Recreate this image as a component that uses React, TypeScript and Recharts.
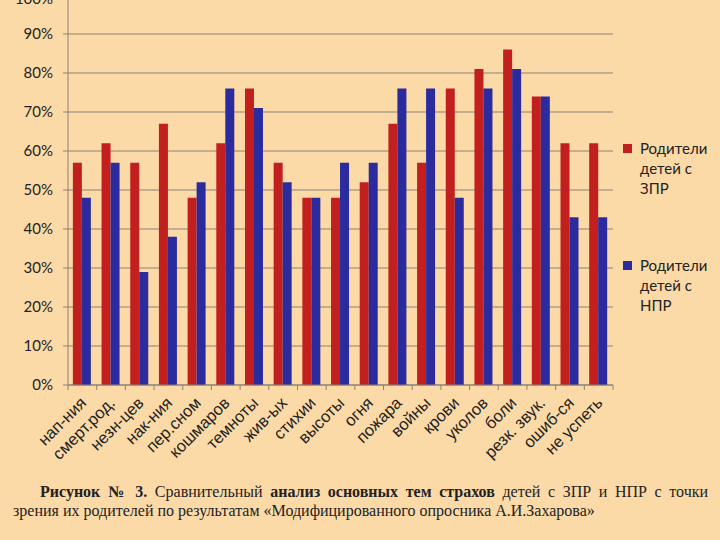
import { BarChart, Bar, XAxis, YAxis, CartesianGrid, Legend } from "recharts";

// темы страхов
const categories = [
  "нап-ния", "смерт.род.", "незн-цев", "нак-ния", "пер.сном", "кошмаров", "темноты",
  "жив-ых", "стихии", "высоты", "огня", "пожара", "войны", "крови", "уколов",
  "боли", "резк. звук.", "ошиб-ся", "не успеть",
];
const zpr = [57, 62, 57, 67, 48, 62, 76, 57, 48, 48, 52, 67, 57, 76, 81, 86, 74, 62, 62];
const npr = [48, 57, 29, 38, 52, 76, 71, 52, 48, 57, 57, 76, 76, 48, 76, 81, 74, 43, 43];
const yTicks = [0, 0.1, 0.2, 0.3, 0.4, 0.5, 0.6, 0.7, 0.8, 0.9, 1];
const seriesNames = ["Родители детей с ЗПР", "Родители детей с НПР"];

const data = categories.map((name, i) => ({ name, zpr: zpr[i] / 100, npr: npr[i] / 100 }));

const BG = "#FCDAA8";
const RED = "#C21F1F";
const BLUE = "#2B2B9E";
const GRID = "#8C8174";
const PLOT_LEFT = 68;
const PLOT_RIGHT = 613;
const STEP = (PLOT_RIGHT - PLOT_LEFT) / categories.length;

function XTick(props: any) {
  const { x, y, payload, index } = props;
  const y0 = y - 8;
  return (
    <g>
      <line x1={x - STEP / 2} x2={x - STEP / 2} y1={y0} y2={y0 + 5} stroke={GRID} />
      {index === categories.length - 1 && (
        <line x1={x + STEP / 2} x2={x + STEP / 2} y1={y0} y2={y0 + 5} stroke={GRID} />
      )}
      <text
        x={x + 5}
        y={y0 + 19}
        transform={`rotate(-45, ${x + 5}, ${y0 + 19})`}
        textAnchor="end"
        fontFamily="'Liberation Sans', Arial, sans-serif"
        fontSize={16.5}
        fill="#222"
      >
        {payload.value}
      </text>
    </g>
  );
}

function LegendBox() {
  const colors = [RED, BLUE];
  return (
    <div style={{ fontFamily: "Lato, 'Open Sans', sans-serif", fontSize: 15, color: "#222", lineHeight: "20px" }}>
      {seriesNames.map((s, i) => {
        const parts = s.split(" ");
        return (
          <div key={s} style={{ position: "relative", paddingLeft: 17, marginBottom: i === 0 ? 57 : 0 }}>
            <span style={{ position: "absolute", left: 0, top: 6, width: 9, height: 9, background: colors[i] }} />
            <div>{parts[0]}</div>
            <div>{parts[1]} {parts[2]}</div>
            <div>{parts[3]}</div>
          </div>
        );
      })}
    </div>
  );
}

const captionStyle = {
  fontFamily: "'Liberation Serif', 'Times New Roman', serif",
  fontSize: 16,
  lineHeight: "19px",
  color: "#222",
  whiteSpace: "nowrap" as const,
};

export default function App() {
  return (
    <div style={{ position: "absolute", left: 0, top: 0, width: 720, height: 540, background: BG, overflow: "hidden" }}>
      <div style={{ position: "absolute", left: 0, top: -10 }}>
        <BarChart
          width={720}
          height={490}
          data={data}
          margin={{ top: 5, right: 12, bottom: 0, left: 0 }}
          barCategoryGap="17%"
          barGap={0}
        >
          <CartesianGrid horizontal vertical={false} stroke={GRID} />
          <XAxis
            dataKey="name"
            interval={0}
            height={95}
            stroke={GRID}
            tickLine={false}
            tick={<XTick />}
          />
          <YAxis
            domain={[0, 1]}
            ticks={yTicks}
            width={68}
            stroke={GRID}
            tickSize={5}
            tickMargin={10}
            tickFormatter={(v: number) => `${Math.round(v * 100)}%`}
            tick={{ fontFamily: "Lato, 'Open Sans', sans-serif", fontSize: 15, fill: "#222" }}
          />
          <Legend
            layout="vertical"
            align="right"
            verticalAlign="top"
            content={<LegendBox />}
            wrapperStyle={{ position: "absolute", left: 623, top: 148, width: 95 }}
          />
          <Bar dataKey="zpr" name={seriesNames[0]} fill={RED} isAnimationActive={false} />
          <Bar dataKey="npr" name={seriesNames[1]} fill={BLUE} isAnimationActive={false} />
        </BarChart>
      </div>
      <div style={{ ...captionStyle, position: "absolute", left: 40, top: 482, width: 668, textAlign: "justify", textAlignLast: "justify" }}>
        <b>Рисунок № 3.</b> Сравнительный <b>анализ основных тем страхов</b> детей с ЗПР и НПР с точки
      </div>
      <div style={{ ...captionStyle, position: "absolute", left: 13, top: 501 }}>
        зрения их родителей по результатам «Модифицированного опросника А.И.Захарова»
      </div>
    </div>
  );
}
